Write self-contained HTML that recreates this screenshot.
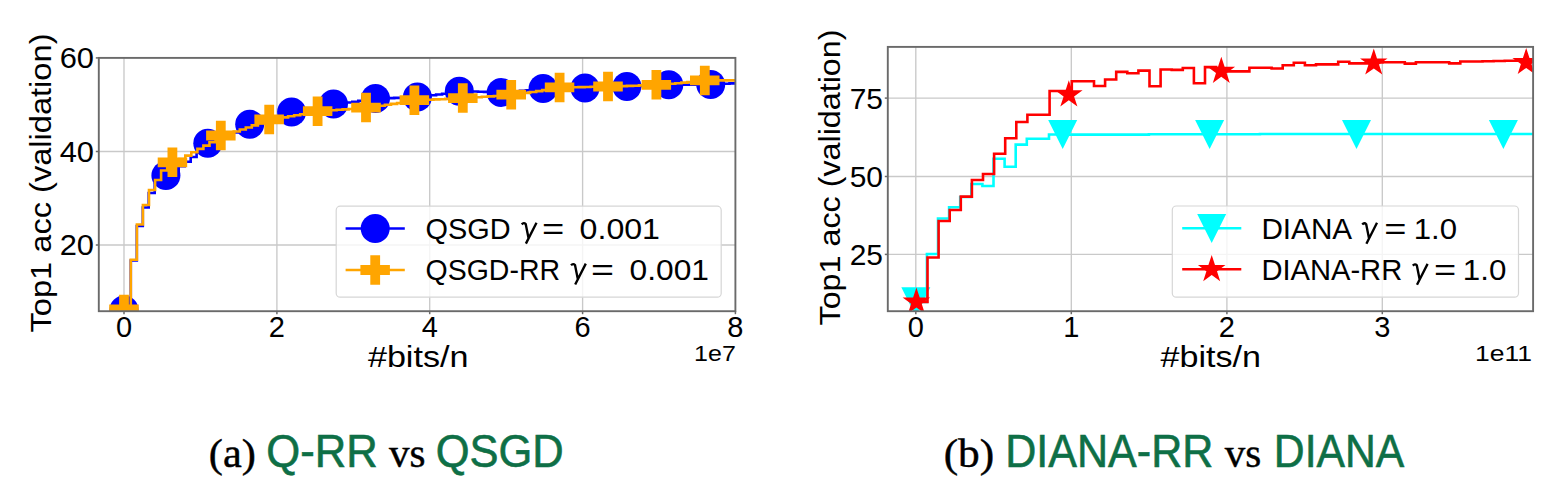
<!DOCTYPE html>
<html><head><meta charset="utf-8"><title>Figure</title>
<style>html,body{margin:0;padding:0;background:#fff;width:1560px;height:487px;overflow:hidden;position:relative}</style>
</head><body>
<svg width="1560" height="487" viewBox="0 0 1560 487" style="position:absolute;left:0;top:0;font-family:&quot;Liberation Sans&quot;,sans-serif">
<defs><clipPath id="cl"><rect x="98.8" y="57.9" width="636.6" height="253.3"/></clipPath>
<clipPath id="cr"><rect x="887.8" y="46.9" width="645.3" height="264.3"/></clipPath></defs>
<rect width="1560" height="487" fill="#fff"/>
<line x1="124.0" y1="57.9" x2="124.0" y2="311.2" stroke="#c9c9c9" stroke-width="1.35"/>
<line x1="276.9" y1="57.9" x2="276.9" y2="311.2" stroke="#c9c9c9" stroke-width="1.35"/>
<line x1="429.7" y1="57.9" x2="429.7" y2="311.2" stroke="#c9c9c9" stroke-width="1.35"/>
<line x1="582.6" y1="57.9" x2="582.6" y2="311.2" stroke="#c9c9c9" stroke-width="1.35"/>
<line x1="98.8" y1="151.5" x2="735.4" y2="151.5" stroke="#c9c9c9" stroke-width="1.35"/>
<line x1="98.8" y1="245.0" x2="735.4" y2="245.0" stroke="#c9c9c9" stroke-width="1.35"/>
<path d="M124.8 310.0 L130.8 310.0 L130.8 260.5 L136.8 260.5 L136.8 226.0 L142.8 226.0 L142.8 207.5 L148.7 207.5 L148.7 193.0 L154.7 193.0 L154.7 184.0 L160.7 184.0 L160.7 179.0 L166.7 179.0 L166.7 175.5 L172.7 175.5 L172.7 170.9 L178.7 170.9 L178.7 166.3 L184.7 166.3 L184.7 161.7 L190.7 161.7 L190.7 157.0 L196.6 157.0 L196.6 152.4 L202.6 152.4 L202.6 147.8 L208.6 147.8 L208.6 143.2 L214.6 143.2 L214.6 140.5 L220.6 140.5 L220.6 137.8 L226.6 137.8 L226.6 135.1 L232.6 135.1 L232.6 132.4 L238.6 132.4 L238.6 129.7 L244.5 129.7 L244.5 127.0 L250.5 127.0 L250.5 124.3 L256.5 124.3 L256.5 122.5 L262.5 122.5 L262.5 120.8 L268.5 120.8 L268.5 119.0 L274.5 119.0 L274.5 117.3 L280.5 117.3 L280.5 115.5 L286.4 115.5 L286.4 113.8 L292.4 113.8 L292.4 112.0 L298.4 112.0 L298.4 110.9 L304.4 110.9 L304.4 109.7 L310.4 109.7 L310.4 108.6 L316.4 108.6 L316.4 107.4 L322.4 107.4 L322.4 106.3 L328.4 106.3 L328.4 105.1 L334.3 105.1 L334.3 104.0 L340.3 104.0 L340.3 103.2 L346.3 103.2 L346.3 102.5 L352.3 102.5 L352.3 101.7 L358.3 101.7 L358.3 100.9 L364.3 100.9 L364.3 100.1 L370.3 100.1 L370.3 99.4 L376.3 99.4 L376.3 98.6 L382.2 98.6 L382.2 98.4 L388.2 98.4 L388.2 98.1 L394.2 98.1 L394.2 97.9 L400.2 97.9 L400.2 97.7 L406.2 97.7 L406.2 97.5 L412.2 97.5 L412.2 97.2 L418.2 97.2 L418.2 97.0 L424.2 97.0 L424.2 96.2 L430.1 96.2 L430.1 95.3 L436.1 95.3 L436.1 94.5 L442.1 94.5 L442.1 93.7 L448.1 93.7 L448.1 92.9 L454.1 92.9 L454.1 92.0 L460.1 92.0 L460.1 91.2 L466.1 91.2 L466.1 91.4 L472.0 91.4 L472.0 91.5 L478.0 91.5 L478.0 91.7 L484.0 91.7 L484.0 91.9 L490.0 91.9 L490.0 92.1 L496.0 92.1 L496.0 92.2 L502.0 92.2 L502.0 92.4 L508.0 92.4 L508.0 91.9 L514.0 91.9 L514.0 91.3 L519.9 91.3 L519.9 90.8 L525.9 90.8 L525.9 90.2 L531.9 90.2 L531.9 89.7 L537.9 89.7 L537.9 89.1 L543.9 89.1 L543.9 88.6 L549.9 88.6 L549.9 88.5 L555.9 88.5 L555.9 88.5 L561.9 88.5 L561.9 88.4 L567.8 88.4 L567.8 88.3 L573.8 88.3 L573.8 88.2 L579.8 88.2 L579.8 88.2 L585.8 88.2 L585.8 88.1 L591.8 88.1 L591.8 87.9 L597.8 87.9 L597.8 87.6 L603.8 87.6 L603.8 87.4 L609.7 87.4 L609.7 87.2 L615.7 87.2 L615.7 87.0 L621.7 87.0 L621.7 86.7 L627.7 86.7 L627.7 86.5 L633.7 86.5 L633.7 86.3 L639.7 86.3 L639.7 86.0 L645.7 86.0 L645.7 85.8 L651.7 85.8 L651.7 85.5 L657.6 85.5 L657.6 85.3 L663.6 85.3 L663.6 85.0 L669.6 85.0 L669.6 84.8 L675.6 84.8 L675.6 84.8 L681.6 84.8 L681.6 84.7 L687.6 84.7 L687.6 84.7 L693.6 84.7 L693.6 84.6 L699.6 84.6 L699.6 84.6 L705.5 84.6 L705.5 84.5 L711.5 84.5 L711.5 84.5 L717.5 84.5 L717.5 84.1 L723.5 84.1 L723.5 83.8 L729.5 83.8 L729.5 83.4 L735.4 83.4" fill="none" stroke="#0000ff" stroke-width="2.6" stroke-linejoin="miter" stroke-linecap="butt" clip-path="url(#cl)"/>
<circle cx="124.0" cy="310.0" r="14.5" fill="#0000ff" clip-path="url(#cl)"/>
<circle cx="165.9" cy="175.5" r="14.5" fill="#0000ff" clip-path="url(#cl)"/>
<circle cx="207.8" cy="143.2" r="14.5" fill="#0000ff" clip-path="url(#cl)"/>
<circle cx="249.7" cy="124.3" r="14.5" fill="#0000ff" clip-path="url(#cl)"/>
<circle cx="291.6" cy="112.0" r="14.5" fill="#0000ff" clip-path="url(#cl)"/>
<circle cx="333.5" cy="104.0" r="14.5" fill="#0000ff" clip-path="url(#cl)"/>
<circle cx="375.5" cy="98.6" r="14.5" fill="#0000ff" clip-path="url(#cl)"/>
<circle cx="417.4" cy="97.0" r="14.5" fill="#0000ff" clip-path="url(#cl)"/>
<circle cx="459.3" cy="91.2" r="14.5" fill="#0000ff" clip-path="url(#cl)"/>
<circle cx="501.2" cy="92.4" r="14.5" fill="#0000ff" clip-path="url(#cl)"/>
<circle cx="543.1" cy="88.6" r="14.5" fill="#0000ff" clip-path="url(#cl)"/>
<circle cx="585.0" cy="88.1" r="14.5" fill="#0000ff" clip-path="url(#cl)"/>
<circle cx="626.9" cy="86.5" r="14.5" fill="#0000ff" clip-path="url(#cl)"/>
<circle cx="668.8" cy="84.8" r="14.5" fill="#0000ff" clip-path="url(#cl)"/>
<circle cx="710.7" cy="84.5" r="14.5" fill="#0000ff" clip-path="url(#cl)"/>
<path d="M124.8 309.5 L130.8 309.5 L130.8 259.8 L136.9 259.8 L136.9 224.5 L142.9 224.5 L142.9 205.0 L149.0 205.0 L149.0 190.0 L155.1 190.0 L155.1 180.0 L161.1 180.0 L161.1 170.5 L167.2 170.5 L167.2 166.0 L173.2 166.0 L173.2 162.3 L179.2 162.3 L179.2 159.0 L185.3 159.0 L185.3 155.6 L191.3 155.6 L191.3 152.2 L197.4 152.2 L197.4 148.9 L203.4 148.9 L203.4 145.6 L209.5 145.6 L209.5 142.2 L215.6 142.2 L215.6 138.8 L221.6 138.8 L221.6 135.5 L227.6 135.5 L227.6 133.5 L233.7 133.5 L233.7 131.5 L239.8 131.5 L239.8 129.5 L245.8 129.5 L245.8 127.5 L251.8 127.5 L251.8 125.4 L257.9 125.4 L257.9 123.4 L263.9 123.4 L263.9 121.4 L270.0 121.4 L270.0 119.4 L276.1 119.4 L276.1 118.4 L282.1 118.4 L282.1 117.4 L288.1 117.4 L288.1 116.3 L294.2 116.3 L294.2 115.3 L300.2 115.3 L300.2 114.3 L306.3 114.3 L306.3 113.2 L312.3 113.2 L312.3 112.2 L318.4 112.2 L318.4 111.2 L324.4 111.2 L324.4 110.8 L330.5 110.8 L330.5 110.3 L336.6 110.3 L336.6 109.8 L342.6 109.8 L342.6 109.4 L348.6 109.4 L348.6 109.0 L354.7 109.0 L354.7 108.5 L360.8 108.5 L360.8 108.0 L366.8 108.0 L366.8 107.6 L372.8 107.6 L372.8 106.7 L378.9 106.7 L378.9 105.7 L384.9 105.7 L384.9 104.8 L391.0 104.8 L391.0 103.9 L397.1 103.9 L397.1 103.0 L403.1 103.0 L403.1 102.1 L409.1 102.1 L409.1 101.1 L415.2 101.1 L415.2 100.2 L421.2 100.2 L421.2 99.9 L427.3 99.9 L427.3 99.7 L433.4 99.7 L433.4 99.4 L439.4 99.4 L439.4 99.2 L445.4 99.2 L445.4 98.9 L451.5 98.9 L451.5 98.6 L457.6 98.6 L457.6 98.4 L463.6 98.4 L463.6 98.1 L469.6 98.1 L469.6 97.7 L475.7 97.7 L475.7 97.2 L481.8 97.2 L481.8 96.8 L487.8 96.8 L487.8 96.4 L493.9 96.4 L493.9 96.0 L499.9 96.0 L499.9 95.6 L505.9 95.6 L505.9 95.1 L512.0 95.1 L512.0 94.7 L518.0 94.7 L518.0 93.8 L524.1 93.8 L524.1 92.9 L530.1 92.9 L530.1 92.0 L536.2 92.0 L536.2 91.1 L542.2 91.1 L542.2 90.1 L548.3 90.1 L548.3 89.2 L554.4 89.2 L554.4 88.3 L560.4 88.3 L560.4 87.4 L566.4 87.4 L566.4 87.3 L572.5 87.3 L572.5 87.2 L578.5 87.2 L578.5 87.1 L584.6 87.1 L584.6 87.0 L590.6 87.0 L590.6 86.8 L596.7 86.8 L596.7 86.7 L602.8 86.7 L602.8 86.6 L608.8 86.6 L608.8 86.5 L614.9 86.5 L614.9 86.3 L620.9 86.3 L620.9 86.1 L626.9 86.1 L626.9 85.9 L633.0 85.9 L633.0 85.7 L639.0 85.7 L639.0 85.4 L645.1 85.4 L645.1 85.2 L651.1 85.2 L651.1 85.0 L657.2 85.0 L657.2 84.8 L663.2 84.8 L663.2 84.2 L669.3 84.2 L669.3 83.7 L675.3 83.7 L675.3 83.2 L681.4 83.2 L681.4 82.6 L687.4 82.6 L687.4 82.0 L693.5 82.0 L693.5 81.5 L699.5 81.5 L699.5 81.0 L705.6 81.0 L705.6 80.4 L711.6 80.4 L711.6 80.4 L717.7 80.4 L717.7 80.4 L723.7 80.4 L723.7 80.4 L729.8 80.4 L729.8 80.4 L735.4 80.4" fill="none" stroke="#ffa500" stroke-width="2.6" stroke-linejoin="miter" stroke-linecap="butt" clip-path="url(#cl)"/>
<path d="M119.1 294.8 L128.9 294.8 L128.9 304.6 L138.8 304.6 L138.8 314.4 L128.9 314.4 L128.9 324.2 L119.1 324.2 L119.1 314.4 L109.2 314.4 L109.2 304.6 L119.1 304.6Z" fill="#ffa500" clip-path="url(#cl)"/>
<path d="M167.5 147.6 L177.3 147.6 L177.3 157.4 L187.2 157.4 L187.2 167.2 L177.3 167.2 L177.3 177.1 L167.5 177.1 L167.5 167.2 L157.7 167.2 L157.7 157.4 L167.5 157.4Z" fill="#ffa500" clip-path="url(#cl)"/>
<path d="M215.9 120.8 L225.7 120.8 L225.7 130.6 L235.6 130.6 L235.6 140.4 L225.7 140.4 L225.7 150.2 L215.9 150.2 L215.9 140.4 L206.1 140.4 L206.1 130.6 L215.9 130.6Z" fill="#ffa500" clip-path="url(#cl)"/>
<path d="M264.3 104.7 L274.1 104.7 L274.1 114.5 L283.9 114.5 L283.9 124.3 L274.1 124.3 L274.1 134.2 L264.3 134.2 L264.3 124.3 L254.4 124.3 L254.4 114.5 L264.3 114.5Z" fill="#ffa500" clip-path="url(#cl)"/>
<path d="M312.7 96.5 L322.5 96.5 L322.5 106.3 L332.4 106.3 L332.4 116.1 L322.5 116.1 L322.5 126.0 L312.7 126.0 L312.7 116.1 L302.9 116.1 L302.9 106.3 L312.7 106.3Z" fill="#ffa500" clip-path="url(#cl)"/>
<path d="M361.1 92.8 L370.9 92.8 L370.9 102.7 L380.8 102.7 L380.8 112.5 L370.9 112.5 L370.9 122.3 L361.1 122.3 L361.1 112.5 L351.2 112.5 L351.2 102.7 L361.1 102.7Z" fill="#ffa500" clip-path="url(#cl)"/>
<path d="M409.5 85.5 L419.3 85.5 L419.3 95.3 L429.1 95.3 L429.1 105.1 L419.3 105.1 L419.3 115.0 L409.5 115.0 L409.5 105.1 L399.6 105.1 L399.6 95.3 L409.5 95.3Z" fill="#ffa500" clip-path="url(#cl)"/>
<path d="M457.9 83.3 L467.7 83.3 L467.7 93.2 L477.6 93.2 L477.6 103.0 L467.7 103.0 L467.7 112.8 L457.9 112.8 L457.9 103.0 L448.1 103.0 L448.1 93.2 L457.9 93.2Z" fill="#ffa500" clip-path="url(#cl)"/>
<path d="M506.3 80.0 L516.1 80.0 L516.1 89.8 L526.0 89.8 L526.0 99.6 L516.1 99.6 L516.1 109.5 L506.3 109.5 L506.3 99.6 L496.4 99.6 L496.4 89.8 L506.3 89.8Z" fill="#ffa500" clip-path="url(#cl)"/>
<path d="M554.7 72.7 L564.5 72.7 L564.5 82.5 L574.3 82.5 L574.3 92.3 L564.5 92.3 L564.5 102.2 L554.7 102.2 L554.7 92.3 L544.8 92.3 L544.8 82.5 L554.7 82.5Z" fill="#ffa500" clip-path="url(#cl)"/>
<path d="M603.1 71.8 L612.9 71.8 L612.9 81.6 L622.8 81.6 L622.8 91.4 L612.9 91.4 L612.9 101.2 L603.1 101.2 L603.1 91.4 L593.2 91.4 L593.2 81.6 L603.1 81.6Z" fill="#ffa500" clip-path="url(#cl)"/>
<path d="M651.5 70.0 L661.3 70.0 L661.3 79.9 L671.1 79.9 L671.1 89.7 L661.3 89.7 L661.3 99.5 L651.5 99.5 L651.5 89.7 L641.6 89.7 L641.6 79.9 L651.5 79.9Z" fill="#ffa500" clip-path="url(#cl)"/>
<path d="M699.9 65.7 L709.7 65.7 L709.7 75.5 L719.5 75.5 L719.5 85.3 L709.7 85.3 L709.7 95.2 L699.9 95.2 L699.9 85.3 L690.0 85.3 L690.0 75.5 L699.9 75.5Z" fill="#ffa500" clip-path="url(#cl)"/>
<rect x="98.8" y="57.9" width="636.6" height="253.3" fill="none" stroke="#6a6a6a" stroke-width="1.9"/>
<line x1="124.0" y1="311.2" x2="124.0" y2="314.2" stroke="#6a6a6a" stroke-width="1.5"/>
<line x1="276.9" y1="311.2" x2="276.9" y2="314.2" stroke="#6a6a6a" stroke-width="1.5"/>
<line x1="429.7" y1="311.2" x2="429.7" y2="314.2" stroke="#6a6a6a" stroke-width="1.5"/>
<line x1="582.6" y1="311.2" x2="582.6" y2="314.2" stroke="#6a6a6a" stroke-width="1.5"/>
<line x1="735.4" y1="311.2" x2="735.4" y2="314.2" stroke="#6a6a6a" stroke-width="1.5"/>
<line x1="95.8" y1="57.9" x2="98.8" y2="57.9" stroke="#6a6a6a" stroke-width="1.5"/>
<line x1="95.8" y1="151.5" x2="98.8" y2="151.5" stroke="#6a6a6a" stroke-width="1.5"/>
<line x1="95.8" y1="245.0" x2="98.8" y2="245.0" stroke="#6a6a6a" stroke-width="1.5"/>
<text x="124.0" y="336.5" font-size="29" text-anchor="middle" fill="#000" >0</text>
<text x="276.9" y="336.5" font-size="29" text-anchor="middle" fill="#000" >2</text>
<text x="429.7" y="336.5" font-size="29" text-anchor="middle" fill="#000" >4</text>
<text x="582.6" y="336.5" font-size="29" text-anchor="middle" fill="#000" >6</text>
<text x="735.4" y="336.5" font-size="29" text-anchor="middle" fill="#000" >8</text>
<text x="94.0" y="68.1" font-size="29" text-anchor="end" fill="#000" textLength="34.3" lengthAdjust="spacingAndGlyphs" >60</text>
<text x="94.0" y="161.7" font-size="29" text-anchor="end" fill="#000" textLength="34.3" lengthAdjust="spacingAndGlyphs" >40</text>
<text x="94.0" y="255.2" font-size="29" text-anchor="end" fill="#000" textLength="34.3" lengthAdjust="spacingAndGlyphs" >20</text>
<text x="418.2" y="366.8" font-size="29" text-anchor="middle" fill="#000" textLength="100.6" lengthAdjust="spacingAndGlyphs" >#bits/n</text>
<text x="735.8" y="361.3" font-size="21.5" text-anchor="end" fill="#000" textLength="41.7" lengthAdjust="spacingAndGlyphs" >1e7</text>
<text x="0" y="0" font-size="29" text-anchor="middle" transform="translate(50.5,183.0) rotate(-90)" textLength="299" lengthAdjust="spacingAndGlyphs">Top1 acc (validation)</text>
<rect x="336.2" y="206.2" width="385" height="91" rx="4" ry="4" fill="#fff" fill-opacity="0.8" stroke="#d6d6d6" stroke-width="1.2"/>
<line x1="345.6" y1="228.5" x2="404.8" y2="228.5" stroke="#0000ff" stroke-width="2.6"/>
<circle cx="375.2" cy="228.5" r="14.5" fill="#0000ff"/>
<line x1="345.6" y1="270" x2="404.8" y2="270" stroke="#ffa500" stroke-width="2.6"/>
<path d="M370.3 255.2 L380.1 255.2 L380.1 265.1 L389.9 265.1 L389.9 274.9 L380.1 274.9 L380.1 284.8 L370.3 284.8 L370.3 274.9 L360.4 274.9 L360.4 265.1 L370.3 265.1Z" fill="#ffa500" />
<text x="425.6" y="238.7" font-size="29" text-anchor="start" fill="#000" textLength="85.0" lengthAdjust="spacingAndGlyphs" >QSGD</text>
<path d="M521.70 224.40 Q523.90 222.10 525.70 224.10 L528.50 238.10 M536.50 222.70 L525.90 243.60" fill="none" stroke="#000" stroke-width="2.35" stroke-linecap="butt" stroke-linejoin="round"/>
<text x="542.0" y="238.7" font-size="29" text-anchor="start" fill="#000" textLength="22.3" lengthAdjust="spacingAndGlyphs" >=</text>
<text x="579.6" y="238.7" font-size="29" text-anchor="start" fill="#000" textLength="80.4" lengthAdjust="spacingAndGlyphs" >0.001</text>
<text x="425.6" y="279.6" font-size="29" text-anchor="start" fill="#000" textLength="134.4" lengthAdjust="spacingAndGlyphs" >QSGD-RR</text>
<path d="M571.00 265.30 Q573.20 263.00 575.00 265.00 L577.80 279.00 M585.80 263.60 L575.20 284.50" fill="none" stroke="#000" stroke-width="2.35" stroke-linecap="butt" stroke-linejoin="round"/>
<text x="591.0" y="279.6" font-size="29" text-anchor="start" fill="#000" textLength="23.0" lengthAdjust="spacingAndGlyphs" >=</text>
<text x="629.6" y="279.6" font-size="29" text-anchor="start" fill="#000" textLength="79.4" lengthAdjust="spacingAndGlyphs" >0.001</text>
<line x1="915.8" y1="46.9" x2="915.8" y2="311.2" stroke="#c9c9c9" stroke-width="1.35"/>
<line x1="1071.3" y1="46.9" x2="1071.3" y2="311.2" stroke="#c9c9c9" stroke-width="1.35"/>
<line x1="1226.9" y1="46.9" x2="1226.9" y2="311.2" stroke="#c9c9c9" stroke-width="1.35"/>
<line x1="1382.3" y1="46.9" x2="1382.3" y2="311.2" stroke="#c9c9c9" stroke-width="1.35"/>
<line x1="887.8" y1="98.1" x2="1533.1" y2="98.1" stroke="#c9c9c9" stroke-width="1.35"/>
<line x1="887.8" y1="176.5" x2="1533.1" y2="176.5" stroke="#c9c9c9" stroke-width="1.35"/>
<line x1="887.8" y1="254.4" x2="1533.1" y2="254.4" stroke="#c9c9c9" stroke-width="1.35"/>
<path d="M915.8 302.0 L926.9 302.0 L926.9 254.0 L938.0 254.0 L938.0 218.5 L949.1 218.5 L949.1 207.2 L960.2 207.2 L960.2 197.0 L971.3 197.0 L971.3 184.0 L982.4 184.0 L982.4 186.0 L993.5 186.0 L993.5 158.7 L1004.6 158.7 L1004.6 166.7 L1015.7 166.7 L1015.7 144.6 L1026.8 144.6 L1026.8 138.7 L1037.9 138.7 L1037.9 138.7 L1049.0 138.7 L1049.0 134.5 L1060.1 134.5 L1060.1 134.6 L1071.2 134.6 L1071.2 134.6 L1082.3 134.6 L1082.3 134.6 L1093.4 134.6 L1093.4 134.6 L1104.5 134.6 L1104.5 134.6 L1115.6 134.6 L1115.6 134.6 L1126.7 134.6 L1126.7 134.6 L1137.8 134.6 L1137.8 134.6 L1148.9 134.6 L1148.9 134.3 L1160.0 134.3 L1160.0 134.3 L1171.1 134.3 L1171.1 134.3 L1182.2 134.3 L1182.2 134.3 L1193.3 134.3 L1193.3 134.3 L1204.4 134.3 L1204.4 134.3 L1215.5 134.3 L1215.5 134.3 L1226.6 134.3 L1226.6 134.3 L1237.7 134.3 L1237.7 134.3 L1248.8 134.3 L1248.8 134.3 L1259.9 134.3 L1259.9 134.0 L1271.0 134.0 L1271.0 134.0 L1282.1 134.0 L1282.1 134.0 L1293.2 134.0 L1293.2 134.0 L1304.3 134.0 L1304.3 134.0 L1315.4 134.0 L1315.4 134.0 L1326.5 134.0 L1326.5 134.0 L1337.6 134.0 L1337.6 134.0 L1348.7 134.0 L1348.7 134.0 L1359.8 134.0 L1359.8 134.0 L1370.9 134.0 L1370.9 134.0 L1382.0 134.0 L1382.0 134.0 L1393.1 134.0 L1393.1 134.0 L1404.2 134.0 L1404.2 134.0 L1415.3 134.0 L1415.3 134.0 L1426.4 134.0 L1426.4 134.0 L1437.5 134.0 L1437.5 134.0 L1448.6 134.0 L1448.6 134.0 L1459.7 134.0 L1459.7 134.0 L1470.8 134.0 L1470.8 134.0 L1481.9 134.0 L1481.9 134.0 L1493.0 134.0 L1493.0 134.0 L1504.1 134.0 L1504.1 134.0 L1515.2 134.0 L1515.2 134.0 L1526.3 134.0 L1526.3 134.0 L1533.1 134.0" fill="none" stroke="#00ffff" stroke-width="2.6" stroke-linejoin="miter" stroke-linecap="butt" clip-path="url(#cr)"/>
<path d="M901.3 287.3 L930.3 287.3 L915.8 316.3 Z" fill="#00ffff" clip-path="url(#cr)"/>
<path d="M1048.2 120.0 L1077.2 120.0 L1062.7 149.0 Z" fill="#00ffff" clip-path="url(#cr)"/>
<path d="M1195.1 120.0 L1224.1 120.0 L1209.6 149.0 Z" fill="#00ffff" clip-path="url(#cr)"/>
<path d="M1342.0 120.0 L1371.0 120.0 L1356.5 149.0 Z" fill="#00ffff" clip-path="url(#cr)"/>
<path d="M1488.9 120.0 L1517.9 120.0 L1503.4 149.0 Z" fill="#00ffff" clip-path="url(#cr)"/>
<path d="M916.4 302.0 L927.5 302.0 L927.5 257.5 L938.6 257.5 L938.6 221.0 L949.7 221.0 L949.7 210.0 L960.8 210.0 L960.8 196.6 L971.9 196.6 L971.9 180.0 L983.0 180.0 L983.0 174.0 L994.1 174.0 L994.1 153.7 L1005.2 153.7 L1005.2 138.2 L1016.3 138.2 L1016.3 122.0 L1027.4 122.0 L1027.4 114.8 L1038.5 114.8 L1038.5 114.8 L1049.6 114.8 L1049.6 91.0 L1060.7 91.0 L1060.7 91.0 L1071.8 91.0 L1071.8 81.2 L1082.9 81.2 L1082.9 81.2 L1094.0 81.2 L1094.0 86.0 L1105.1 86.0 L1105.1 79.5 L1116.2 79.5 L1116.2 71.9 L1127.3 71.9 L1127.3 73.3 L1138.4 73.3 L1138.4 70.6 L1149.5 70.6 L1149.5 86.3 L1160.6 86.3 L1160.6 69.5 L1171.7 69.5 L1171.7 69.9 L1182.8 69.9 L1182.8 68.0 L1193.9 68.0 L1193.9 83.3 L1205.0 83.3 L1205.0 67.1 L1216.1 67.1 L1216.1 69.0 L1227.2 69.0 L1227.2 71.4 L1238.3 71.4 L1238.3 71.4 L1249.4 71.4 L1249.4 67.7 L1260.5 67.7 L1260.5 67.7 L1271.6 67.7 L1271.6 68.5 L1282.7 68.5 L1282.7 65.2 L1293.8 65.2 L1293.8 62.8 L1304.9 62.8 L1304.9 65.2 L1316.0 65.2 L1316.0 64.4 L1327.1 64.4 L1327.1 64.4 L1338.2 64.4 L1338.2 61.8 L1349.3 61.8 L1349.3 63.4 L1360.4 63.4 L1360.4 63.4 L1371.5 63.4 L1371.5 62.5 L1382.6 62.5 L1382.6 62.2 L1393.7 62.2 L1393.7 62.2 L1404.8 62.2 L1404.8 63.6 L1415.9 63.6 L1415.9 62.2 L1427.0 62.2 L1427.0 62.2 L1438.1 62.2 L1438.1 62.2 L1449.2 62.2 L1449.2 63.4 L1460.3 63.4 L1460.3 61.5 L1471.4 61.5 L1471.4 61.5 L1482.5 61.5 L1482.5 61.3 L1493.6 61.3 L1493.6 61.0 L1504.7 61.0 L1504.7 60.8 L1515.8 60.8 L1515.8 60.6 L1526.9 60.6 L1526.9 60.5 L1533.1 60.5" fill="none" stroke="#ff0000" stroke-width="2.6" stroke-linejoin="miter" stroke-linecap="butt" clip-path="url(#cr)"/>
<path d="M916.4 287.5 L913.1 297.5 L902.6 297.5 L911.1 303.7 L907.9 313.7 L916.4 307.5 L924.9 313.7 L921.7 303.7 L930.2 297.5 L919.7 297.5Z" fill="#ff0000" clip-path="url(#cr)"/>
<path d="M1068.8 80.3 L1065.6 90.3 L1055.1 90.3 L1063.6 96.5 L1060.3 106.5 L1068.8 100.3 L1077.4 106.5 L1074.1 96.5 L1082.6 90.3 L1072.1 90.3Z" fill="#ff0000" clip-path="url(#cr)"/>
<path d="M1221.3 56.7 L1218.0 66.7 L1207.5 66.7 L1216.0 72.9 L1212.8 82.9 L1221.3 76.7 L1229.8 82.9 L1226.6 72.9 L1235.1 66.7 L1224.6 66.7Z" fill="#ff0000" clip-path="url(#cr)"/>
<path d="M1373.8 48.4 L1370.5 58.4 L1360.0 58.4 L1368.5 64.6 L1365.2 74.6 L1373.8 68.4 L1382.3 74.6 L1379.0 64.6 L1387.5 58.4 L1377.0 58.4Z" fill="#ff0000" clip-path="url(#cr)"/>
<path d="M1526.2 47.9 L1522.9 57.9 L1512.4 57.9 L1520.9 64.1 L1517.7 74.1 L1526.2 67.9 L1534.7 74.1 L1531.5 64.1 L1540.0 57.9 L1529.5 57.9Z" fill="#ff0000" clip-path="url(#cr)"/>
<rect x="887.8" y="46.9" width="645.3" height="264.3" fill="none" stroke="#6a6a6a" stroke-width="1.9"/>
<line x1="915.8" y1="311.2" x2="915.8" y2="314.2" stroke="#6a6a6a" stroke-width="1.5"/>
<line x1="1071.3" y1="311.2" x2="1071.3" y2="314.2" stroke="#6a6a6a" stroke-width="1.5"/>
<line x1="1226.9" y1="311.2" x2="1226.9" y2="314.2" stroke="#6a6a6a" stroke-width="1.5"/>
<line x1="1382.3" y1="311.2" x2="1382.3" y2="314.2" stroke="#6a6a6a" stroke-width="1.5"/>
<line x1="884.8" y1="98.1" x2="887.8" y2="98.1" stroke="#6a6a6a" stroke-width="1.5"/>
<line x1="884.8" y1="176.5" x2="887.8" y2="176.5" stroke="#6a6a6a" stroke-width="1.5"/>
<line x1="884.8" y1="254.4" x2="887.8" y2="254.4" stroke="#6a6a6a" stroke-width="1.5"/>
<text x="915.8" y="336.5" font-size="29" text-anchor="middle" fill="#000" >0</text>
<text x="1071.3" y="336.5" font-size="29" text-anchor="middle" fill="#000" >1</text>
<text x="1226.9" y="336.5" font-size="29" text-anchor="middle" fill="#000" >2</text>
<text x="1382.3" y="336.5" font-size="29" text-anchor="middle" fill="#000" >3</text>
<text x="883.0" y="108.5" font-size="29" text-anchor="end" fill="#000" textLength="33.3" lengthAdjust="spacingAndGlyphs" >75</text>
<text x="883.0" y="186.9" font-size="29" text-anchor="end" fill="#000" textLength="33.3" lengthAdjust="spacingAndGlyphs" >50</text>
<text x="883.0" y="264.8" font-size="29" text-anchor="end" fill="#000" textLength="33.3" lengthAdjust="spacingAndGlyphs" >25</text>
<text x="1210.8" y="366.8" font-size="29" text-anchor="middle" fill="#000" textLength="100.5" lengthAdjust="spacingAndGlyphs" >#bits/n</text>
<text x="1532.0" y="361.3" font-size="21.5" text-anchor="end" fill="#000" textLength="57.0" lengthAdjust="spacingAndGlyphs" >1e11</text>
<text x="0" y="0" font-size="29" text-anchor="middle" transform="translate(839.8,177.5) rotate(-90)" textLength="296" lengthAdjust="spacingAndGlyphs">Top1 acc (validation)</text>
<rect x="1172.3" y="206" width="346.2" height="91.2" rx="4" ry="4" fill="#fff" fill-opacity="0.8" stroke="#d6d6d6" stroke-width="1.2"/>
<line x1="1182.2" y1="228.2" x2="1241.3" y2="228.2" stroke="#00ffff" stroke-width="2.6"/>
<path d="M1197.2 214.0 L1226.2 214.0 L1211.7 243.0 Z" fill="#00ffff" />
<line x1="1182.2" y1="269.3" x2="1241.3" y2="269.3" stroke="#ff0000" stroke-width="2.6"/>
<path d="M1211.7 255.1 L1208.4 265.1 L1197.9 265.1 L1206.4 271.3 L1203.2 281.3 L1211.7 275.1 L1220.2 281.3 L1217.0 271.3 L1225.5 265.1 L1215.0 265.1Z" fill="#ff0000" />
<text x="1261.4" y="238.8" font-size="29" text-anchor="start" fill="#000" textLength="90.8" lengthAdjust="spacingAndGlyphs" >DIANA</text>
<path d="M1362.20 224.50 Q1364.40 222.20 1366.20 224.20 L1369.00 238.20 M1377.00 222.80 L1366.40 243.70" fill="none" stroke="#000" stroke-width="2.35" stroke-linecap="butt" stroke-linejoin="round"/>
<text x="1384.2" y="238.8" font-size="29" text-anchor="start" fill="#000" textLength="22.2" lengthAdjust="spacingAndGlyphs" >=</text>
<text x="1413.8" y="238.8" font-size="29" text-anchor="start" fill="#000" textLength="43.3" lengthAdjust="spacingAndGlyphs" >1.0</text>
<text x="1261.4" y="279.9" font-size="29" text-anchor="start" fill="#000" textLength="140.8" lengthAdjust="spacingAndGlyphs" >DIANA-RR</text>
<path d="M1412.80 265.60 Q1415.00 263.30 1416.80 265.30 L1419.60 279.30 M1427.60 263.90 L1417.00 284.80" fill="none" stroke="#000" stroke-width="2.35" stroke-linecap="butt" stroke-linejoin="round"/>
<text x="1434.1" y="279.9" font-size="29" text-anchor="start" fill="#000" textLength="22.2" lengthAdjust="spacingAndGlyphs" >=</text>
<text x="1462.8" y="279.9" font-size="29" text-anchor="start" fill="#000" textLength="43.5" lengthAdjust="spacingAndGlyphs" >1.0</text>
<text x="208.8" y="466.5" font-size="41" style="font-family:&quot;Liberation Serif&quot;,serif" stroke="#000" stroke-width="0.45" textLength="47.0" lengthAdjust="spacingAndGlyphs">(a)</text>
<text x="266.2" y="466.5" font-size="46" fill="#0e6f46" stroke="#0e6f46" stroke-width="0.6" textLength="111.5" lengthAdjust="spacingAndGlyphs">Q-RR</text>
<text x="389.0" y="466.5" font-size="41" style="font-family:&quot;Liberation Serif&quot;,serif" stroke="#000" stroke-width="0.45" textLength="36.5" lengthAdjust="spacingAndGlyphs">vs</text>
<text x="435.7" y="466.5" font-size="46" fill="#0e6f46" stroke="#0e6f46" stroke-width="0.6" textLength="128.0" lengthAdjust="spacingAndGlyphs">QSGD</text>
<text x="943.7" y="466.5" font-size="41" style="font-family:&quot;Liberation Serif&quot;,serif" stroke="#000" stroke-width="0.45" textLength="50.5" lengthAdjust="spacingAndGlyphs">(b)</text>
<text x="1005.3" y="466.5" font-size="46" fill="#0e6f46" stroke="#0e6f46" stroke-width="0.6" textLength="208.0" lengthAdjust="spacingAndGlyphs">DIANA-RR</text>
<text x="1224.7" y="466.5" font-size="41" style="font-family:&quot;Liberation Serif&quot;,serif" stroke="#000" stroke-width="0.45" textLength="36.5" lengthAdjust="spacingAndGlyphs">vs</text>
<text x="1273.8" y="466.5" font-size="46" fill="#0e6f46" stroke="#0e6f46" stroke-width="0.6" textLength="130.5" lengthAdjust="spacingAndGlyphs">DIANA</text>
</svg>
</body></html>
